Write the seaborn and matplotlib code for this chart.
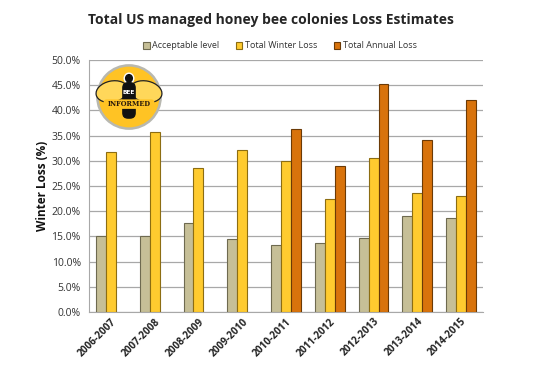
import pandas as pd
import matplotlib.pyplot as plt
import seaborn as sns
from matplotlib.patches import Circle, Ellipse, FancyBboxPatch
from matplotlib.ticker import PercentFormatter

# Data
seasons = ['2006-2007', '2007-2008', '2008-2009', '2009-2010', '2010-2011',
           '2011-2012', '2012-2013', '2013-2014', '2014-2015']
acceptable = [15.0, 15.0, 17.6, 14.5, 13.2, 13.6, 14.6, 19.0, 18.7]
winter = [31.8, 35.8, 28.6, 32.2, 29.9, 22.5, 30.6, 23.7, 23.1]
annual_seasons = ['2010-2011', '2011-2012', '2012-2013', '2013-2014', '2014-2015']
annual = [36.4, 28.9, 45.2, 34.2, 42.1]

series = ['Acceptable level', 'Total Winter Loss', 'Total Annual Loss']
colors = {'Acceptable level': '#C6BF97',
          'Total Winter Loss': '#FFCB2F',
          'Total Annual Loss': '#D8730C'}
edges = {'Acceptable level': '#6E6A50',
         'Total Winter Loss': '#8C6D12',
         'Total Annual Loss': '#6B3A06'}

df = pd.concat([
    pd.DataFrame({'Season': seasons, 'Loss': acceptable, 'Series': series[0]}),
    pd.DataFrame({'Season': seasons, 'Loss': winter, 'Series': series[1]}),
    pd.DataFrame({'Season': annual_seasons, 'Loss': annual, 'Series': series[2]}),
])

sns.set_style('white')
plt.rcParams['font.family'] = ['Open Sans', 'DejaVu Sans']

fig = plt.figure(figsize=(5.5, 3.66), dpi=100)
ax = fig.add_axes([89 / 550, 1 - 312 / 366, 394 / 550, 252 / 366])

sns.barplot(data=df, x='Season', y='Loss', hue='Series', order=seasons,
            hue_order=series, palette=colors, saturation=1, width=0.68, ax=ax,
            errorbar=None, legend=False, zorder=3)

for container, name in zip(ax.containers, series):
    for bar in container:
        bar.set_edgecolor(edges[name])
        bar.set_linewidth(0.8)

ax.set_ylim(0, 50)
ax.set_yticks(range(0, 51, 5))
ax.yaxis.set_major_formatter(PercentFormatter(decimals=1))
ax.grid(axis='y', color='#A8A8A8', linewidth=0.9, zorder=0)
ax.set_xlim(-0.5, len(seasons) - 0.5)
for s in ['top', 'right']:
    ax.spines[s].set_visible(False)
ax.spines['left'].set_color('#A8A8A8')
ax.spines['bottom'].set_color('#A8A8A8')

ax.set_xlabel('')
ax.set_ylabel('Winter Loss (%)', fontsize=8.5, fontweight='bold', color='#111111', labelpad=2)
ax.tick_params(axis='y', labelsize=7.5, labelcolor='#333333', length=0, pad=6)
ax.tick_params(axis='x', labelsize=7.2, length=0, pad=3)
plt.setp(ax.get_xticklabels(), rotation=45, ha='right', rotation_mode='anchor',
         fontweight='bold', color='#222222')

fig.suptitle('Total US managed honey bee colonies Loss Estimates',
             x=271 / 550, y=1 - 13 / 366, fontsize=10, fontweight='bold', va='top')

# legend
handles = [plt.Rectangle((0, 0), 1, 1, facecolor=colors[n], edgecolor=edges[n], linewidth=0.8)
           for n in series]
fig.legend(handles, series, loc='center', bbox_to_anchor=(280 / 550, 1 - 46 / 366),
           ncol=3, frameon=False, fontsize=6.5, handlelength=0.7, handleheight=0.7,
           handletextpad=0.3, columnspacing=1.8, labelcolor='#333333')

# Bee Informed logo (approximation)
lx = fig.add_axes([(129 - 34) / 550, 1 - (97 + 34) / 366, 68 / 550, 68 / 366])
lx.set_xlim(-1, 1)
lx.set_ylim(-1, 1)
lx.set_aspect('equal')
lx.axis('off')
lx.add_patch(Circle((0, 0), 0.93, facecolor='#FFC324', edgecolor='#B8B8B0', linewidth=1.8))
for sx in (-1, 1):
    lx.add_patch(Ellipse((0.5 * sx, 0.16), 0.95, 0.62, angle=-12 * sx,
                         facecolor='#FFD75A', edgecolor='#222222', linewidth=0.9))
lx.add_patch(Ellipse((0, 0.55), 0.28, 0.3, facecolor='#111111'))
lx.add_patch(FancyBboxPatch((-0.16, -0.6), 0.32, 1.0,
                            boxstyle='round,pad=0.02,rounding_size=0.15',
                            facecolor='#111111', edgecolor='#111111'))
lx.text(0, 0.12, 'BEE', ha='center', va='center', fontsize=4.2, color='white',
        fontweight='bold', family=['DejaVu Sans'])
lx.add_patch(FancyBboxPatch((-0.74, -0.34), 1.48, 0.26,
                            boxstyle='round,pad=0.01,rounding_size=0.1',
                            facecolor='#FFC324', edgecolor='none'))
lx.text(0, -0.21, 'INFORMED', ha='center', va='center', fontsize=4.8, color='#2A1A0A',
        fontweight='bold', family=['DejaVu Serif'])

plt.savefig('out.png', dpi=100, facecolor='white')
plt.close()
